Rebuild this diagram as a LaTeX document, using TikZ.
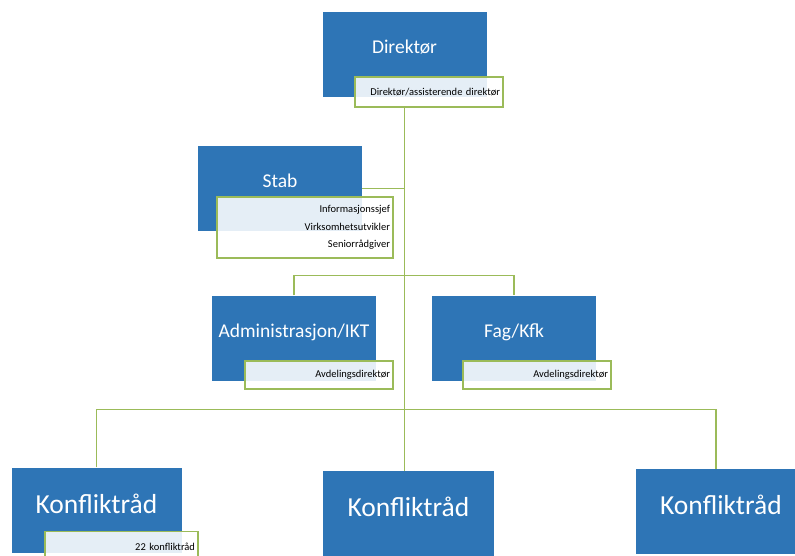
\documentclass[tikz,border=0pt]{standalone}
\usepackage{fontspec}
\setmainfont{Carlito}
\usetikzlibrary{positioning}

\definecolor{unitblue}{HTML}{2E75B6}
\definecolor{linkgreen}{HTML}{9BBB59}

\begin{document}
\begin{tikzpicture}[x=1pt,y=-1pt,
  unit/.style={fill=unitblue, text=white, inner sep=0pt, minimum width=164pt, minimum height=85pt,
    font=\fontsize{19.5}{22}\selectfont, text height=13pt, text depth=14pt},
  council/.style={fill=unitblue, text=white, inner sep=0pt, minimum width=170pt, minimum height=85pt,
    font=\fontsize{27.5}{30}\selectfont, text height=18pt, text depth=12pt},
  role/.style={draw=linkgreen, line width=1.2pt, fill=white, fill opacity=0.88, text opacity=1,
    text=black, inner sep=3pt, align=right, font=\fontsize{10.5}{17.5}\selectfont},
  link/.style={draw=linkgreen, line width=1.2pt}]

\useasboundingbox (0,0) rectangle (795,556);
\clip (0,0) rectangle (795,556);

% Top
\node[unit] (dir) at (404.5,54.5) {Direktør};
\node[role, minimum width=148pt, minimum height=30pt, text width=142pt] (dirsub) at (429,92)
  {Direktør/assisterende direktør};

% Staff
\node[unit] (stab) at (280,188.5) {Stab};
\node[role, minimum width=176pt, minimum height=61pt, text width=170pt] (stabsub) at (305,227.5)
  {Informasjonssjef\\Virksomhetsutvikler\\Seniorrådgiver};

% Departments
\node[unit] (adm) at (294,338) {Administrasjon/IKT};
\node[role, minimum width=148pt, minimum height=28pt, text width=142pt] (admsub) at (319,375)
  {Avdelingsdirektør};
\node[unit] (fag) at (514,338) {Fag/Kfk};
\node[role, minimum width=148pt, minimum height=28pt, text width=142pt] (fagsub) at (537,375)
  {Avdelingsdirektør};

% Councils
\node[council] (kr1) at (96.5,510) {Konfliktråd};
\node[role, minimum width=153pt, minimum height=30pt, text width=147pt, anchor=north] (kr1sub) at (121.5,531)
  {22 konfliktråd};
\node[council, minimum width=171pt] (kr2) at (408.5,513.5) {Konfliktråd};
\node[council] (kr3) at (721,511.5) {Konfliktråd};

% Lines
\coordinate (trunk) at (dir.south |- dirsub.south);
\coordinate (bus2) at (404,275.5);
\coordinate (bus3) at (404,409.5);

\draw[link] (trunk) -- (trunk |- kr2.north);
\draw[link] (stab.east) -- (stab.east -| trunk);
\draw[link] (adm.north) |- (bus2) -| (fag.north);
\draw[link] (kr1.north) |- (bus3) -| ([xshift=-5pt]kr3.north);

\end{tikzpicture}
\end{document}
